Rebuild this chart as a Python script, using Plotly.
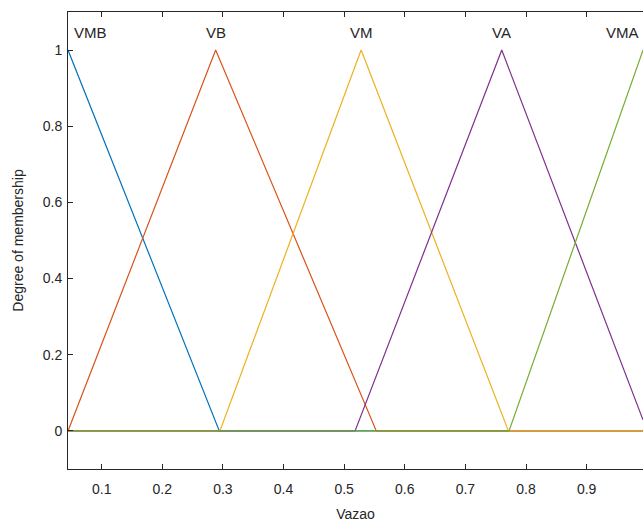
import plotly.graph_objects as go

# Membership function names and triangle parameters [a, b, c] (trimf)
names = ["VMB", "VB", "VM", "VA", "VMA"]
a_vals = [-0.2, 0.0444, 0.295, 0.518, 0.772]
b_vals = [0.0444, 0.288, 0.528, 0.760, 0.993]
c_vals = [0.294, 0.553, 0.771, 1.0, 1.23]
colors = ["#0072BD", "#D95319", "#EDB120", "#7E2F8E", "#77AC30"]

x_min, x_max = 0.0444, 0.993
x_ticks = [0.1, 0.2, 0.3, 0.4, 0.5, 0.6, 0.7, 0.8, 0.9]
x_ticklabels = ["0.1", "0.2", "0.3", "0.4", "0.5", "0.6", "0.7", "0.8", "0.9"]
y_ticks = [0, 0.2, 0.4, 0.6, 0.8, 1]
y_ticklabels = ["0", "0.2", "0.4", "0.6", "0.8", "1"]


def trimf_points(a, b, c):
    xs = [x_min, a, b, c, x_max]
    pts = []
    for x in sorted(set(xs)):
        if x < x_min or x > x_max:
            continue
        if x <= a or x >= c:
            y = 0.0
        elif x <= b:
            y = (x - a) / (b - a)
        else:
            y = (c - x) / (c - b)
        pts.append((x, y))
    return [p[0] for p in pts], [p[1] for p in pts]


fig = go.Figure()
for name, a, b, c, col in zip(names, a_vals, b_vals, c_vals, colors):
    xs, ys = trimf_points(a, b, c)
    fig.add_trace(go.Scatter(x=xs, y=ys, mode="lines", name=name,
                             line=dict(color=col, width=1.2),
                             hoverinfo="skip", showlegend=False))

font_fam = "Liberation Sans, Arial, sans-serif"
axis_col = "#262626"

for i, (name, b) in enumerate(zip(names, b_vals)):
    if i == 0:
        xa, xs = "left", 4
    elif i == len(names) - 1:
        xa, xs = "right", -2
    else:
        xa, xs = "center", 0
    fig.add_annotation(x=b, y=1.045, text=name, showarrow=False,
                       xanchor=xa, xshift=xs, yanchor="middle",
                       font=dict(family=font_fam, size=15, color=axis_col))

fig.update_layout(
    width=643, height=523,
    margin=dict(l=68, r=0, t=12, b=54),
    paper_bgcolor="white", plot_bgcolor="white",
    font=dict(family=font_fam, size=14, color=axis_col),
    xaxis=dict(range=[x_min, x_max], tickvals=x_ticks, ticktext=x_ticklabels,
               ticks="inside", ticklen=5, tickcolor=axis_col, ticklabelstandoff=7,
               showline=True, linecolor=axis_col, linewidth=1, mirror="ticks",
               showgrid=False, zeroline=False, automargin=False,
               title=dict(text="Vazao", font=dict(size=14), standoff=13)),
    yaxis=dict(range=[-0.1, 1.1], tickvals=y_ticks, ticktext=y_ticklabels,
               ticks="inside", ticklen=5, tickcolor=axis_col, ticklabelstandoff=2,
               showline=True, linecolor=axis_col, linewidth=1,
               showgrid=False, zeroline=False, automargin=False,
               title=dict(text="Degree of membership", font=dict(size=14), standoff=15)),
)

fig.write_html("out.html")
